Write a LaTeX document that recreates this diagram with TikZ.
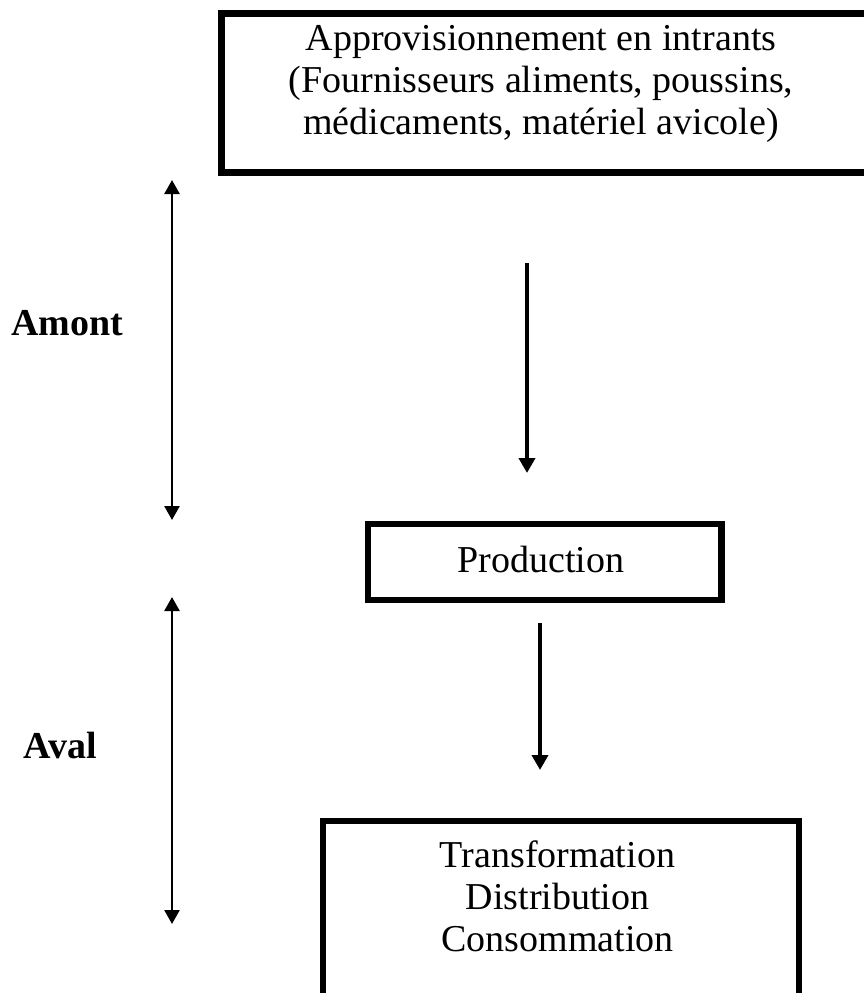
\documentclass[tikz,border=0pt]{standalone}
\usepackage{fontspec}
\setmainfont{Liberation Serif}
\usetikzlibrary{arrows.meta}
\tikzset{
  thickbox/.style={draw=black, line width=6.5pt, rectangle, inner sep=0pt},
  boxtext/.style={align=center, inner sep=0pt, font=\fontsize{38}{42}\selectfont},
  sidelabel/.style={inner sep=0pt, font=\fontsize{38}{42}\selectfont\bfseries},
  flowarrow/.style={line width=4pt, -{Triangle[length=15pt,width=16pt]}},
  rangearrow/.style={line width=2.6pt, {Triangle[length=14pt,width=15pt]}-{Triangle[length=14pt,width=15pt]}},
}
\begin{document}
\begin{tikzpicture}[x=1pt,y=-1pt]
\useasboundingbox (0,0) rectangle (864,993);
\clip (0,0) rectangle (864,993);
% boxes
\node[thickbox, minimum width=652pt, minimum height=159pt, anchor=north west] (inputs) at (218,10) {};
\node[boxtext] (inputstext) at (541,84) {Approvisionnement en intrants\\(Fournisseurs aliments, poussins,\\médicaments, matériel avicole)};
\node[thickbox, minimum width=353.5pt, minimum height=76pt, anchor=north west] (prod) at (364.5,520.5) {};
\node[boxtext] (prodtext) at (541,559) {Production};
\node[thickbox, minimum width=476pt, minimum height=190pt, anchor=north west] (downstream) at (319.5,817.5) {};
\node[boxtext] (downtext) at (557.5,896) {Transformation\\Distribution\\Consommation};
% side labels
\node[sidelabel] (amont) at (67,323) {Amont};
\node[sidelabel] (aval) at (60,745) {Aval};
% named arrow ends
\coordinate (a1s) at (527,263);
\coordinate (a1e) at (527,473);
\coordinate (a2s) at (540,623);
\coordinate (a2e) at (540,770);
\coordinate (r1s) at (172,180);
\coordinate (r1e) at (172,520);
\coordinate (r2s) at (172,597);
\coordinate (r2e) at (172,924);
\draw[flowarrow] (a1s) -- (a1e);
\draw[flowarrow] (a2s) -- (a2e);
\draw[rangearrow] (r1s) -- (r1e);
\draw[rangearrow] (r2s) -- (r2e);
\end{tikzpicture}
\end{document}
